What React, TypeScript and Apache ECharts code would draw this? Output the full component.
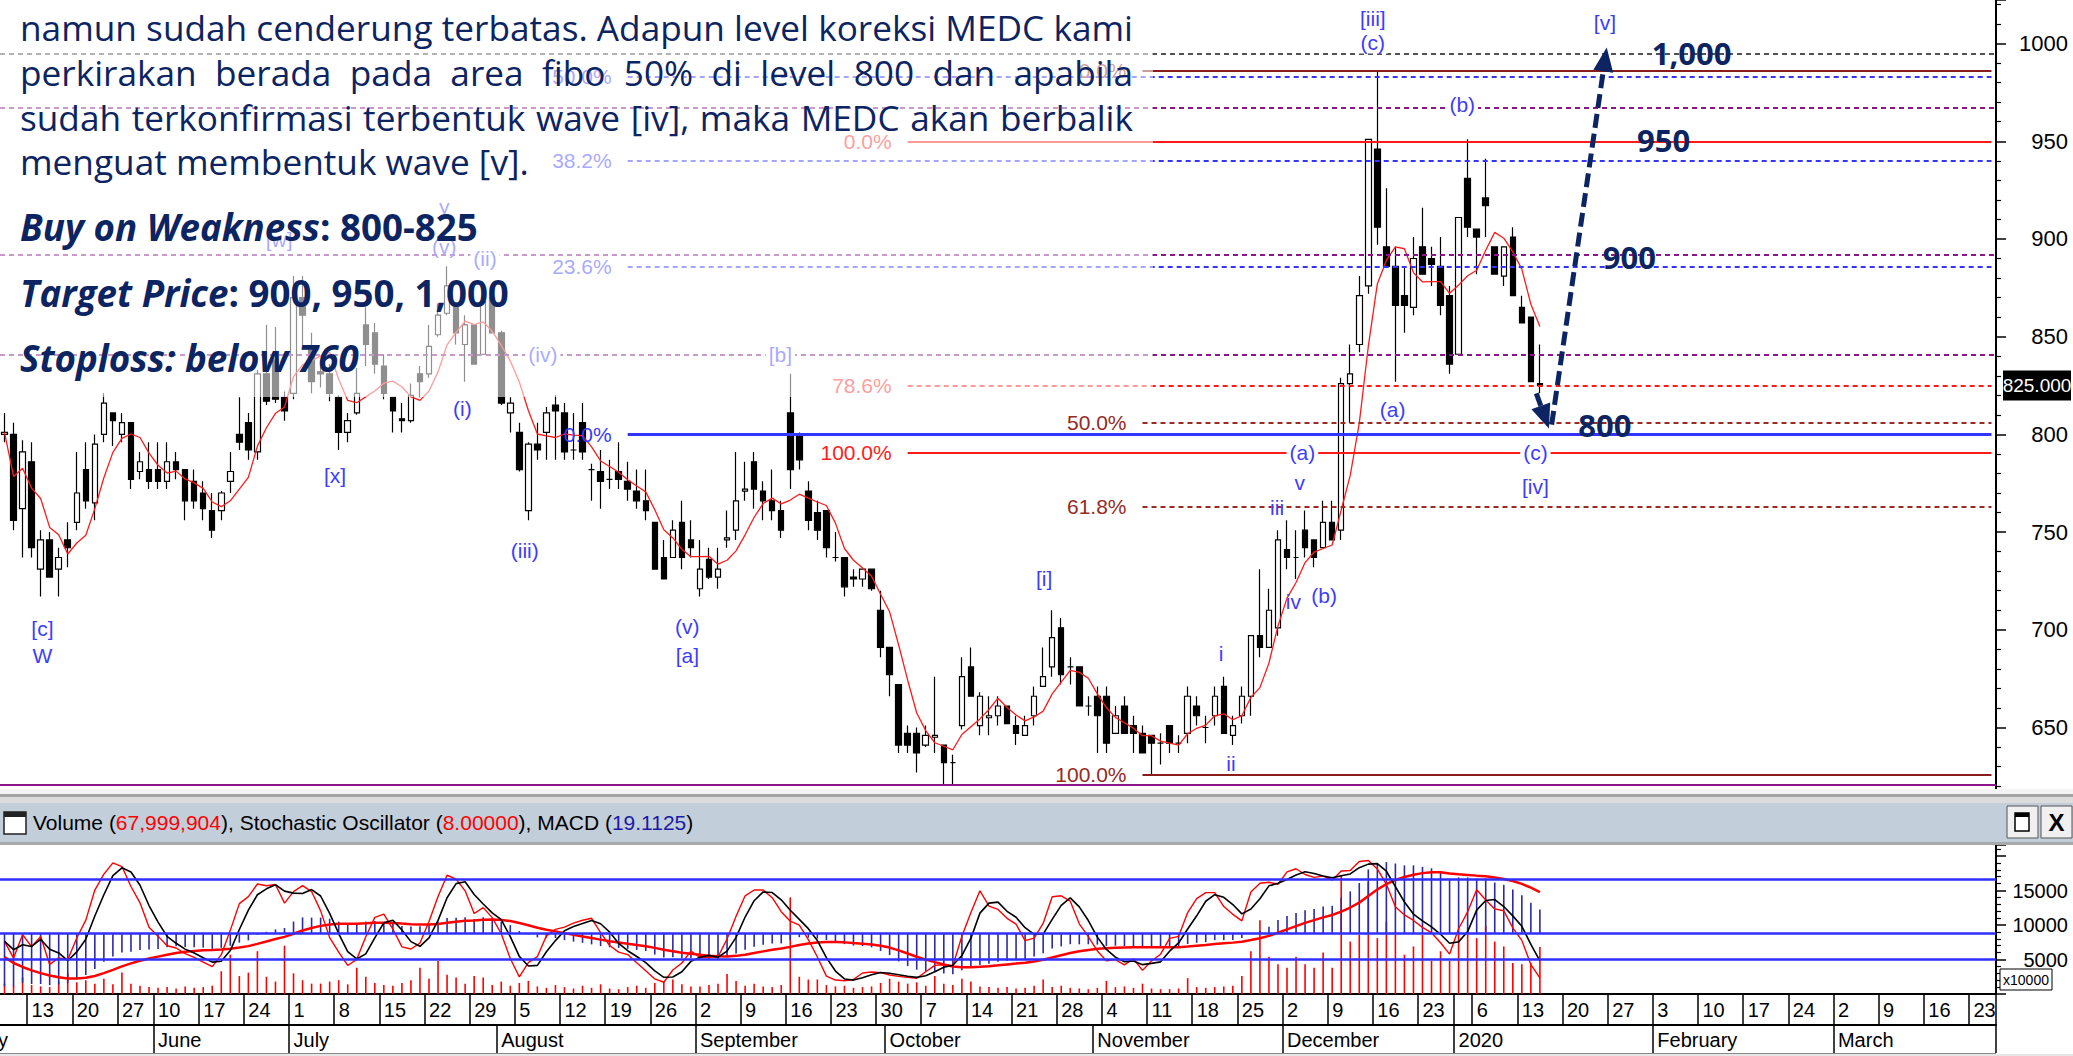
import React, { useEffect, useRef } from 'react';
import * as echarts from 'echarts';

const PAGE_W = 2073;
const PAGE_H = 1056;
const NAVY = '#0c2461';
const NARROW = "'Liberation Sans Narrow', 'Arial Narrow', 'Liberation Sans', Arial, sans-serif";
const SANS = "'Open Sans', 'Noto Sans', sans-serif";

// ---------- trading days (IDX calendar) ----------
const MAY_2019 = [8, 9, 10, 13, 14, 15, 16, 17, 20, 21, 22, 23, 24, 27, 28, 29, 31];
const JUN_2019 = [10, 11, 12, 13, 14, 17, 18, 19, 20, 21, 24, 25, 26, 27, 28];
const JUL_2019 = [1, 2, 3, 4, 5, 8, 9, 10, 11, 12, 15, 16, 17, 18, 19, 22, 23, 24, 25, 26, 29, 30, 31];
const AUG_2019 = [1, 2, 5, 6, 7, 8, 9, 12, 13, 14, 15, 16, 19, 20, 21, 22, 23, 26, 27, 28, 29, 30];
const SEP_2019 = [2, 3, 4, 5, 6, 9, 10, 11, 12, 13, 16, 17, 18, 19, 20, 23, 24, 25, 26, 27, 30];
const OCT_2019 = [1, 2, 3, 4, 7, 8, 9, 10, 11, 14, 15, 16, 17, 18, 21, 22, 23, 24, 25, 28, 29, 30, 31];
const NOV_2019 = [1, 4, 5, 6, 7, 8, 11, 12, 13, 14, 15, 18, 19, 20, 21, 22, 25, 26, 27, 28, 29];
const DEC_2019 = [2, 3, 4, 5, 6, 9, 10, 11, 12, 13, 16, 17, 18, 19, 20, 23, 26, 27, 30];
const JAN_2020 = [2, 3, 6, 7, 8, 9, 10, 13, 14, 15, 16, 17, 20, 21, 22, 23, 24, 27, 28, 29, 30, 31];
const FEB_2020 = [3, 4, 5, 6, 7, 10, 11, 12, 13, 14, 17, 18, 19, 20, 21, 24, 25, 26, 27, 28];
const MAR_2020 = [2, 3, 4, 5, 6, 9, 10, 11, 12, 13, 16, 17, 18, 19, 20, 23, 24, 26];
// days that the source chart keeps in the preceding week block
const NO_WEEK_BREAK = ['2019-12-30'];

const MONTH_BLOCKS: [number, number, number[]][] = [
  [2019, 5, MAY_2019], [2019, 6, JUN_2019], [2019, 7, JUL_2019], [2019, 8, AUG_2019],
  [2019, 9, SEP_2019], [2019, 10, OCT_2019], [2019, 11, NOV_2019], [2019, 12, DEC_2019],
  [2020, 1, JAN_2020], [2020, 2, FEB_2020], [2020, 3, MAR_2020],
];
const MONTH_NAMES = ['January', 'February', 'March', 'April', 'May', 'June', 'July', 'August', 'September', 'October', 'November', 'December'];

const pad = (n: number) => (n < 10 ? '0' + n : '' + n);
const DATES: string[] = MONTH_BLOCKS.flatMap(([y, m, days]) => days.map((d) => `${y}-${pad(m)}-${pad(d)}`));

// ---------- daily candles [open, close, low, high] ----------
const CANDLES: [number, number, number, number][] = [
  [800, 801, 796, 811], [800, 756, 751, 806], [762, 791, 737, 797], [786, 742, 737, 796], [731, 746, 717, 751],
  [746, 727, 727, 750], [731, 737, 717, 742], [746, 742, 732, 755], [755, 770, 751, 791], [782, 766, 762, 796],
  [765, 795, 756, 800], [800, 816, 796, 821], [811, 807, 794, 811], [800, 806, 796, 811], [806, 777, 772, 806],
  [781, 786, 777, 791], [782, 776, 772, 796], [782, 776, 772, 796], [776, 786, 772, 796], [786, 782, 777, 791],
  [782, 766, 756, 782], [776, 766, 762, 782], [770, 762, 756, 776], [761, 751, 747, 770], [761, 770, 756, 771],
  [776, 781, 770, 791], [800, 796, 792, 819], [806, 792, 787, 811], [791, 831, 787, 833], [831, 817, 815, 856],
  [838, 818, 816, 855], [819, 812, 807, 822], [821, 870, 818, 881], [870, 861, 845, 881], [845, 827, 821, 852],
  [832, 831, 824, 838], [831, 821, 817, 836], [819, 801, 792, 820], [801, 807, 796, 811], [811, 821, 810, 834],
  [856, 846, 835, 865], [852, 836, 831, 857], [835, 821, 818, 841], [819, 812, 801, 819], [808, 807, 801, 816],
  [807, 820, 806, 826], [831, 827, 819, 835], [831, 845, 829, 856], [851, 861, 850, 867], [862, 876, 861, 886],
  [865, 852, 846, 865], [846, 856, 827, 861], [856, 836, 836, 856], [841, 868, 841, 871], [870, 852, 852, 872],
  [852, 816, 815, 853], [811, 816, 801, 819], [801, 782, 781, 806], [761, 795, 756, 796], [795, 792, 787, 806],
  [801, 811, 787, 814], [815, 812, 787, 820], [811, 791, 787, 816], [792, 792, 787, 811], [806, 791, 787, 816],
  [782, 782, 766, 785], [781, 776, 762, 792], [777, 777, 772, 787], [781, 777, 772, 796], [776, 772, 766, 786],
  [771, 766, 762, 782], [766, 761, 756, 782], [755, 731, 731, 755], [737, 726, 726, 746], [737, 751, 737, 756],
  [755, 737, 731, 766], [746, 742, 737, 756], [721, 731, 717, 746], [736, 727, 726, 742], [727, 731, 721, 742],
  [746, 747, 742, 761], [751, 766, 746, 791], [771, 772, 766, 786], [786, 772, 762, 791], [771, 766, 756, 776],
  [766, 761, 756, 782], [761, 751, 747, 766], [811, 782, 772, 831], [800, 787, 782, 801], [771, 756, 751, 776],
  [760, 751, 746, 766], [761, 742, 737, 761], [737, 737, 735, 750], [737, 722, 717, 737], [727, 726, 722, 731],
  [726, 731, 722, 731], [731, 721, 720, 731], [710, 691, 686, 720], [691, 677, 666, 691], [672, 641, 637, 672],
  [647, 641, 637, 651], [647, 637, 627, 650], [641, 646, 640, 651], [645, 646, 637, 676], [641, 632, 621, 641],
  [632, 632, 621, 636], [651, 676, 649, 686], [681, 666, 666, 691], [651, 666, 646, 668], [655, 656, 646, 666],
  [656, 661, 651, 666], [661, 652, 652, 661], [651, 647, 641, 656], [646, 651, 646, 656], [656, 666, 651, 671],
  [671, 676, 671, 691], [681, 696, 676, 710], [701, 677, 672, 706], [681, 681, 672, 686], [681, 661, 661, 681],
  [661, 661, 656, 666], [666, 656, 637, 671], [666, 642, 637, 671], [647, 656, 647, 661], [661, 647, 647, 666],
  [651, 647, 637, 656], [647, 637, 637, 651], [646, 642, 626, 646], [642, 642, 631, 647], [651, 642, 637, 651],
  [642, 642, 637, 646], [647, 666, 642, 671], [661, 656, 651, 666], [650, 650, 642, 656], [656, 666, 651, 671],
  [671, 647, 647, 676], [646, 651, 641, 656], [656, 666, 652, 671], [666, 697, 656, 697], [697, 691, 686, 731],
  [691, 710, 691, 721], [701, 746, 697, 751], [741, 737, 731, 756], [737, 737, 726, 751], [751, 742, 737, 761],
  [746, 737, 732, 746], [742, 755, 742, 766], [755, 746, 746, 766], [751, 826, 746, 829], [826, 831, 806, 846],
  [846, 871, 842, 881], [876, 951, 872, 951], [946, 906, 897, 986], [896, 886, 886, 926], [886, 866, 827, 896],
  [871, 866, 852, 886], [865, 890, 861, 901], [896, 882, 882, 916], [890, 887, 876, 896], [886, 866, 861, 901],
  [871, 836, 831, 876], [841, 911, 841, 911], [931, 906, 901, 951], [905, 901, 882, 905], [921, 917, 901, 941],
  [896, 882, 882, 896], [881, 896, 876, 896], [901, 871, 871, 906], [865, 857, 857, 871], [860, 827, 827, 860],
  [826, 825, 821, 846],
];

// daily volume, in units of 10,000 shares
const VOLUME = [
  1500, 1200, 2400, 1300, 1100, 1000, 1800, 3000, 1700, 2000, 1500, 2200, 1400, 3100, 1500, 1200, 1000,
  900, 1000, 800, 1100, 900, 1000, 1200, 3300, 5700, 2600, 3100, 6200, 2500, 1800, 7000, 3000, 2000, 1500,
  1500, 1800, 2000, 1400, 3800, 2500, 1600, 1300, 1200, 1600, 2000, 3800, 2200, 4800, 2800, 2400, 1500, 2600, 2400, 1300,
  1800, 1200, 1600, 1900, 1100, 900, 1300, 1000, 800, 1200, 900, 1400, 800, 700, 1000, 1200, 900, 1600, 1800, 2100, 1400, 1100,
  1100, 1300, 1500, 2900, 1900, 1200, 1500, 1100, 1000, 1300, 14000, 2500, 2100, 2100, 1300, 1100, 1200, 900, 1000, 1100,
  1600, 2200, 1800, 1500, 1700, 1200, 2600, 1500, 1300, 2200, 1800, 1100, 1000, 900, 1000, 800, 900, 1200, 2100,
  1000, 1200, 900, 800, 700, 900, 1900, 1000, 1100, 900, 1500, 800, 700, 700, 800, 2300, 1000, 900, 1000, 1100, 1200,
  2600, 6200, 10700, 5400, 4300, 3800, 5400, 4300, 3800, 6000, 3800, 17200, 7600, 8600, 16200, 8100, 10500, 9000,
  5700, 6900, 8600, 4800, 6200, 4800, 9000, 9000, 8100, 9800, 7600, 6900, 4500, 4300, 4500, 6800,
];

// price levels
const BLACK_LEVEL = 995;
const PURPLE_DASHED_LEVELS = [967, 892, 841];
const PURPLE_BASE_LEVEL = 620.5;
const BLUE_FIB = [{ label: '50.0%', price: 983 }, { label: '38.2%', price: 940 }, { label: '23.6%', price: 886 }, { label: '0.0%', price: 800 }];
const RED_FIB = [{ label: '0.0%', price: 950 }, { label: '78.6%', price: 824.8 }, { label: '100.0%', price: 790.5 }];
const BROWN_FIB = [{ label: '0.0%', price: 986 }, { label: '50.0%', price: 806 }, { label: '61.8%', price: 763 }, { label: '100.0%', price: 626 }];
const BLUE_FIB_START = 69;
const RED_FIB_START = 100;
const BROWN_FIB_START = 126;

// Elliott-wave labels: [text, day index, price]
const WAVE_LABELS: [string, number, number][] = [
  ['[iii]', 151.5, 1013], ['(c)', 151.5, 1000.3], ['[v]', 177.2, 1011], ['(b)', 161.4, 968.6],
  ['(a)', 153.7, 812.5], ['(a)', 143.7, 790.5], ['v', 143.4, 775.2], ['iii', 140.9, 762.4],
  ['iv', 142.7, 714.3], ['(b)', 146.1, 717.8], ['i', 134.7, 688], ['ii', 135.8, 631.7],
  ['(c)', 169.5, 790.5], ['[iv]', 169.5, 773.1], ['[i]', 115.1, 726.5], ['[b]', 85.9, 841],
  ['(v)', 75.6, 701.5], ['[a]', 75.6, 687.1], ['(iii)', 57.6, 740.8], ['(i)', 50.7, 813.5],
  ['(iv)', 59.6, 841], ['(ii)', 53.2, 890], ['y', 48.7, 916.4], ['(v)', 48.7, 896],
  ['[w]', 30.4, 899.5], ['[x]', 36.6, 779.2], ['[c]', 4.2, 700.9], ['W', 4.2, 687.1], ['[ii]', 125.7, 614],
];
const LABELS_ON_LINES = [1, 3, 5, 12, 15, 20, 21, 28];

const TARGET_LABELS: [string, number, number][] = [
  ['1,000', 186.8, 995.2], ['950', 183.7, 950.6], ['900', 179.9, 890.7], ['800', 177.2, 804.7],
];
const ARROW_DOWN: [number, number][] = [[169.6, 821], [171.0, 803]];
const ARROW_UP: [number, number][] = [[171.3, 805], [177.4, 998]];
const LAST_PRICE = 825;

const PARAGRAPH = [
  'namun sudah cenderung terbatas. Adapun level koreksi MEDC kami',
  'perkirakan berada pada area fibo 50% di level 800 dan apabila',
  'sudah terkonfirmasi terbentuk wave [iv], maka MEDC akan berbalik',
  'menguat membentuk wave [v].',
];
const KEY_LINES: [string, string][] = [
  ['Buy on Weakness', ': 800-825'],
  ['Target Price', ': 900, 950, 1,000'],
  ['Stoploss: below 760', ''],
];

// ---------- indicators derived from the price data ----------
const CLOSE = CANDLES.map((c) => c[1]);
const LOW = CANDLES.map((c) => c[2]);
const HIGH = CANDLES.map((c) => c[3]);

function sma(values: number[], n: number): number[] {
  return values.map((_, i) => {
    const w = values.slice(Math.max(0, i - n + 1), i + 1);
    return w.reduce((a, b) => a + b, 0) / w.length;
  });
}
function ema(values: number[], n: number, seed: number): number[] {
  const k = 2 / (n + 1);
  let prev = seed;
  return values.map((v) => (prev = prev + k * (v - prev)));
}
const MA5 = sma(CLOSE, 5).map((v) => Math.round(v * 10) / 10);
// EMA states carried in from before the visible window
const EMA12 = ema(CLOSE, 12, 800);
const EMA26 = ema(CLOSE, 26, 848);
const MACD = EMA12.map((v, i) => +(v - EMA26[i]).toFixed(2));
const SIGNAL = ema(MACD, 9, -14).map((v) => +v.toFixed(2));
const STOCH_PERIOD = 8;
const RAW_K = CLOSE.map((c, i) => {
  const s = Math.max(0, i - STOCH_PERIOD + 1);
  const hh = Math.max(...HIGH.slice(s, i + 1));
  const ll = Math.min(...LOW.slice(s, i + 1));
  return hh === ll ? 50 : ((c - ll) / (hh - ll)) * 100;
});
const STOCH_K = sma(RAW_K, 3).map((v) => +v.toFixed(2));
const STOCH_D = sma(STOCH_K, 3).map((v) => +v.toFixed(2));

// ---------- date axis helpers ----------
const weekNo = (s: string) => Math.floor((Date.parse(s + 'T00:00:00Z') / 86400000 + 3) / 7);
const WEEK_START = DATES.map((s, i) => {
  if (i === 0) return false;
  if (NO_WEEK_BREAK.includes(s)) return false;
  return weekNo(s) !== weekNo(DATES[i - 1]) || s.slice(0, 4) !== DATES[i - 1].slice(0, 4);
});
const WEEK_GROUP: number[] = [];
DATES.forEach((_, i) => WEEK_GROUP.push(i === 0 ? 0 : WEEK_GROUP[i - 1] + (WEEK_START[i] ? 1 : 0)));
const weekLen = (i: number) => WEEK_GROUP.filter((w) => w === WEEK_GROUP[i]).length;
const isMonthStart = (i: number) => i > 0 && DATES[i].slice(0, 7) !== DATES[i - 1].slice(0, 7);
const monthLabel = (v: string) => {
  const m = Number(v.slice(5, 7));
  return m === 1 ? v.slice(0, 4) : MONTH_NAMES[m - 1];
};

function buildOption(): any {
  const solid = (color: string, width: number) => ({ color, width, type: 'solid' });
  const dashed = (color: string, width: number) => ({ color, width, type: [5, 4] });
  const lastIdx = DATES.length - 1;
  const partial = (start: number, price: number, lineStyle: any) => [
    { coord: [start, price], lineStyle },
    { coord: [lastIdx, price] },
  ];
  const levelLines: any[] = [
    { yAxis: BLACK_LEVEL, lineStyle: dashed('#1a1a1a', 1.6) },
    ...PURPLE_DASHED_LEVELS.map((p) => ({ yAxis: p, lineStyle: dashed('#8a168a', 1.8) })),
    { yAxis: PURPLE_BASE_LEVEL, lineStyle: solid('#8a168a', 2) },
    ...BLUE_FIB.map((f, i) => partial(BLUE_FIB_START, f.price, i === 3 ? solid('#3434ff', 3) : dashed('#3434ff', 1.8))),
    ...RED_FIB.map((f, i) => partial(RED_FIB_START, f.price, i === 1 ? dashed('#ff1a1a', 1.8) : solid('#ff1a1a', 2.2))),
    ...BROWN_FIB.map((f, i) => partial(BROWN_FIB_START, f.price, i === 0 || i === 3 ? solid('#8b1c1c', 2.2) : dashed('#9b2a22', 1.8))),
  ];
  const blueLine = { color: '#2f2fff', width: 2.5, type: 'solid' };

  return {
    animation: false,
    backgroundColor: '#ffffff',
    grid: [
      { left: 0, top: 0, width: 1996, height: 825.2 },
      { left: 0, top: 845, width: 1996, height: 149 },
    ],
    xAxis: [
      { type: 'category', gridIndex: 0, data: DATES, boundaryGap: true, show: false },
      {
        type: 'category', gridIndex: 1, data: DATES, boundaryGap: true, position: 'bottom',
        axisLine: { show: true, onZero: false, lineStyle: { color: '#000', width: 2 } },
        axisTick: { show: true, interval: (i: number) => WEEK_START[i], length: 31, lineStyle: { color: '#000', width: 1.5 } },
        axisLabel: {
          show: true, interval: (i: number) => WEEK_START[i] && weekLen(i) >= 3,
          formatter: (v: string) => String(Number(v.slice(8, 10))),
          align: 'left', margin: 6, fontSize: 20, fontFamily: NARROW, color: '#000',
        },
        splitLine: { show: false },
      },
      {
        type: 'category', gridIndex: 1, data: DATES, boundaryGap: true, position: 'bottom', offset: 31,
        axisLine: { show: true, onZero: false, lineStyle: { color: '#000', width: 2 } },
        axisTick: { show: true, interval: (i: number) => isMonthStart(i), length: 28, lineStyle: { color: '#000', width: 1.5 } },
        axisLabel: {
          show: true, interval: (i: number) => isMonthStart(i), formatter: (v: string) => monthLabel(v),
          align: 'left', margin: 5, fontSize: 20, fontFamily: NARROW, color: '#000',
        },
        splitLine: { show: false },
      },
    ],
    yAxis: [
      {
        type: 'value', gridIndex: 0, position: 'right', min: 600, max: 1022.3, interval: 50,
        axisLine: { show: true, lineStyle: { color: '#000', width: 2 } },
        axisTick: { show: true, length: 10, lineStyle: { color: '#000', width: 1.5 } },
        minorTick: { show: true, splitNumber: 5, length: 5, lineStyle: { color: '#000', width: 1.2 } },
        axisLabel: {
          formatter: (v: number) => (v >= 650 && v <= 1000 ? String(v) : ''),
          align: 'right', margin: 72, fontSize: 22, fontFamily: NARROW, color: '#000',
        },
        splitLine: { show: false },
      },
      {
        type: 'value', gridIndex: 1, position: 'right', min: 0, max: 21600, interval: 5000,
        axisLine: { show: true, lineStyle: { color: '#000', width: 2 } },
        axisTick: { show: true, length: 10, lineStyle: { color: '#000', width: 1.5 } },
        minorTick: { show: true, splitNumber: 5, length: 5, lineStyle: { color: '#000', width: 1.2 } },
        axisLabel: {
          formatter: (v: number) => (v >= 5000 && v <= 15000 ? String(v) : ''),
          align: 'right', margin: 72, fontSize: 20, fontFamily: NARROW, color: '#000',
        },
        splitLine: { show: false },
      },
      { type: 'value', gridIndex: 1, min: -6, max: 105.2, show: false, splitLine: { show: false } },
      { type: 'value', gridIndex: 1, min: -50.8, max: 73.3, show: false, splitLine: { show: false } },
    ],
    series: [
      {
        type: 'line', name: 'levels', xAxisIndex: 0, yAxisIndex: 0, data: [], silent: true, z: 1,
        markLine: { silent: true, symbol: ['none', 'none'], label: { show: false }, animation: false, data: levelLines },
      },
      {
        type: 'candlestick', name: 'MEDC', xAxisIndex: 0, yAxisIndex: 0, data: CANDLES, barWidth: 6, z: 2,
        itemStyle: { color: '#ffffff', color0: '#000000', borderColor: '#000000', borderColor0: '#000000', borderWidth: 1.2 },
      },
      {
        type: 'line', name: 'MA', xAxisIndex: 0, yAxisIndex: 0, data: MA5, showSymbol: false, z: 3,
        lineStyle: { color: '#ff1a1a', width: 1.3 },
      },
      {
        type: 'bar', name: 'Volume', xAxisIndex: 1, yAxisIndex: 1, data: VOLUME, barWidth: 1.6, barGap: '-100%', z: 2,
        itemStyle: { color: '#ff0000' },
      },
      {
        type: 'bar', name: 'MACD', xAxisIndex: 1, yAxisIndex: 3, data: MACD, barWidth: 1.6, barGap: '-100%', z: 2,
        itemStyle: { color: '#2a2aa8' },
      },
      {
        type: 'line', name: 'Signal', xAxisIndex: 1, yAxisIndex: 3, data: SIGNAL, showSymbol: false, z: 3,
        lineStyle: { color: '#ff0000', width: 2.5 },
        markLine: { silent: true, symbol: ['none', 'none'], label: { show: false }, data: [{ yAxis: 0, lineStyle: blueLine }] },
      },
      {
        type: 'line', name: '%K', xAxisIndex: 1, yAxisIndex: 2, data: STOCH_K, showSymbol: false, z: 4,
        lineStyle: { color: '#ff0000', width: 1.4 },
        markLine: {
          silent: true, symbol: ['none', 'none'], label: { show: false },
          data: [{ yAxis: 80, lineStyle: blueLine }, { yAxis: 20, lineStyle: blueLine }],
        },
      },
      {
        type: 'line', name: '%D', xAxisIndex: 1, yAxisIndex: 2, data: STOCH_D, showSymbol: false, z: 4,
        lineStyle: { color: '#000000', width: 1.6 },
      },
    ],
  };
}

function buildGraphics(chart: any): any[] {
  const a = chart.convertToPixel({ xAxisIndex: 0 }, 0) as number;
  const b = chart.convertToPixel({ xAxisIndex: 0 }, 100) as number;
  const X = (i: number) => a + ((b - a) * i) / 100;
  const Y = (p: number) => chart.convertToPixel({ yAxisIndex: 0 }, p) as number;
  const g: any[] = [];

  // wave labels
  WAVE_LABELS.forEach(([text, i, p], k) => {
    const onLine = LABELS_ON_LINES.includes(k);
    g.push({
      type: 'text', x: X(i), y: Y(p), z: 5,
      style: {
        text, fill: '#3c3cff', fontSize: 21, fontFamily: NARROW, textAlign: 'center', textVerticalAlign: 'middle',
        backgroundColor: onLine ? '#ffffff' : 'transparent', padding: onLine ? [0, 3] : 0,
      },
    });
  });

  // fib labels
  const fibLabel = (label: string, price: number, start: number, fill: string) =>
    g.push({
      type: 'text', x: X(start) - 16, y: Y(price), z: 5,
      style: { text: label, fill, fontSize: 21, fontFamily: NARROW, textAlign: 'right', textVerticalAlign: 'middle' },
    });
  BLUE_FIB.forEach((f) => fibLabel(f.label, f.price, BLUE_FIB_START, '#3a3aff'));
  RED_FIB.forEach((f) => fibLabel(f.label, f.price, RED_FIB_START, '#ff2020'));
  BROWN_FIB.forEach((f) => fibLabel(f.label, f.price, BROWN_FIB_START, '#962a1e'));

  // translucent box behind the commentary
  g.push({ type: 'rect', shape: { x: 0, y: 0, width: 1153, height: 397 }, style: { fill: 'rgba(255,255,255,0.56)' }, z: 10 });

  // commentary text, justified
  const cv = document.createElement('canvas').getContext('2d') as CanvasRenderingContext2D;
  const measure = (t: string, font: string) => {
    cv.font = font;
    return cv.measureText(t).width;
  };
  const left = 20;
  const width = 1113;
  let fs = 34;
  const w0 = measure(PARAGRAPH[0], `${fs}px ${SANS}`);
  fs = Math.max(28, Math.min(38, (fs * width) / w0));
  const font = `${fs}px ${SANS}`;
  const lineY = [27, 72, 117, 161];
  PARAGRAPH.forEach((line, li) => {
    const words = line.split(' ');
    const justify = li < 3;
    const widths = words.map((w) => measure(w, font));
    const total = widths.reduce((s, v) => s + v, 0);
    const space = justify ? (width - total) / (words.length - 1) : measure(' ', font);
    let x = left;
    words.forEach((w, wi) => {
      g.push({
        type: 'text', x, y: lineY[li], z: 11,
        style: { text: w, fill: NAVY, fontSize: fs, fontFamily: SANS, textAlign: 'left', textVerticalAlign: 'middle' },
      });
      x += widths[wi] + space;
    });
  });

  // key lines (bold)
  let bfs = 34;
  const tw = measure(KEY_LINES[1][0], `italic bold ${bfs}px ${SANS}`) + measure(KEY_LINES[1][1], `bold ${bfs}px ${SANS}`);
  bfs = Math.max(28, Math.min(40, (bfs * 489) / tw));
  const keyY = [227, 293, 358];
  KEY_LINES.forEach(([it, rest], k) => {
    g.push({
      type: 'text', x: left, y: keyY[k], z: 11,
      style: {
        text: `{bi|${it}}` + (rest ? `{b|${rest}}` : ''),
        textAlign: 'left', textVerticalAlign: 'middle',
        rich: {
          bi: { fill: NAVY, fontSize: bfs, fontFamily: SANS, fontWeight: 'bold', fontStyle: 'italic' },
          b: { fill: NAVY, fontSize: bfs, fontFamily: SANS, fontWeight: 'bold' },
        },
      },
    });
  });

  // targets
  TARGET_LABELS.forEach(([t, i, p]) => {
    g.push({
      type: 'text', x: X(i), y: Y(p), z: 11,
      style: { text: t, fill: NAVY, fontSize: 31, fontFamily: SANS, fontWeight: 'bold', textAlign: 'center', textVerticalAlign: 'middle' },
    });
  });

  // dashed arrows
  const arrow = (pts: [number, number][]) => {
    const x1 = X(pts[0][0]);
    const y1 = Y(pts[0][1]);
    const x2 = X(pts[1][0]);
    const y2 = Y(pts[1][1]);
    const len = Math.hypot(x2 - x1, y2 - y1);
    const ux = (x2 - x1) / len;
    const uy = (y2 - y1) / len;
    const hl = 24;
    const hw = 10;
    const bx = x2 - ux * hl;
    const by = y2 - uy * hl;
    g.push({
      type: 'line', z: 11, shape: { x1, y1, x2: bx, y2: by },
      style: { stroke: NAVY, lineWidth: 5, lineDash: [14, 6] },
    });
    g.push({
      type: 'polygon', z: 11,
      shape: { points: [[x2, y2], [bx - uy * hw, by + ux * hw], [bx + uy * hw, by - ux * hw]] },
      style: { fill: NAVY },
    });
  };
  arrow(ARROW_DOWN);
  arrow(ARROW_UP);

  // last price tag
  const ly = Y(LAST_PRICE);
  g.push({ type: 'rect', z: 20, shape: { x: 2003, y: ly - 15, width: 68, height: 30 }, style: { fill: '#000' } });
  g.push({
    type: 'text', z: 21, x: 2037, y: ly,
    style: { text: LAST_PRICE.toFixed(3), fill: '#fff', fontSize: 19, fontFamily: NARROW, textAlign: 'center', textVerticalAlign: 'middle' },
  });

  // separator + indicator header bar
  g.push({ type: 'rect', z: 20, shape: { x: 0, y: 789, width: PAGE_W, height: 5 }, style: { fill: '#f3f3f3' } });
  g.push({ type: 'rect', z: 20, shape: { x: 0, y: 794, width: PAGE_W, height: 3 }, style: { fill: '#a4a4a4' } });
  g.push({ type: 'rect', z: 20, shape: { x: 0, y: 797, width: PAGE_W, height: 6 }, style: { fill: '#dcdcdc' } });
  g.push({ type: 'rect', z: 20, shape: { x: 0, y: 803, width: PAGE_W, height: 39 }, style: { fill: '#c3cedb' } });
  g.push({ type: 'rect', z: 20, shape: { x: 0, y: 842, width: PAGE_W, height: 3 }, style: { fill: '#a9a9a9' } });
  // window icon
  g.push({ type: 'rect', z: 21, shape: { x: 4, y: 812, width: 22, height: 22 }, style: { fill: '#fff', stroke: '#222', lineWidth: 1.5 } });
  g.push({ type: 'rect', z: 21, shape: { x: 4, y: 812, width: 22, height: 5 }, style: { fill: '#222' } });
  g.push({
    type: 'text', z: 21, x: 33, y: 822,
    style: {
      text: '{k|Volume (}{r|67,999,904}{k|), Stochastic Oscillator (}{r|8.00000}{k|), MACD (}{n|19.1125}{k|)}',
      textAlign: 'left', textVerticalAlign: 'middle',
      rich: {
        k: { fill: '#000', fontSize: 21, fontFamily: NARROW },
        r: { fill: '#ff0000', fontSize: 21, fontFamily: NARROW },
        n: { fill: '#1a1aa6', fontSize: 21, fontFamily: NARROW },
      },
    },
  });
  // buttons
  g.push({ type: 'rect', z: 21, shape: { x: 2007, y: 806, width: 31, height: 32 }, style: { fill: '#f0f0f0', stroke: '#555', lineWidth: 1 } });
  g.push({ type: 'rect', z: 22, shape: { x: 2015, y: 813, width: 14, height: 18 }, style: { fill: '#fff', stroke: '#000', lineWidth: 1.5 } });
  g.push({ type: 'rect', z: 22, shape: { x: 2015, y: 813, width: 14, height: 4 }, style: { fill: '#000' } });
  g.push({ type: 'rect', z: 21, shape: { x: 2041, y: 806, width: 31, height: 32 }, style: { fill: '#f0f0f0', stroke: '#555', lineWidth: 1 } });
  g.push({
    type: 'text', z: 22, x: 2056.5, y: 822,
    style: { text: 'X', fill: '#000', fontSize: 24, fontWeight: 'bold', fontFamily: NARROW, textAlign: 'center', textVerticalAlign: 'middle' },
  });

  // volume multiplier tag
  g.push({ type: 'rect', z: 20, shape: { x: 2000, y: 969, width: 52, height: 21 }, style: { fill: '#fff', stroke: '#000', lineWidth: 1 } });
  g.push({
    type: 'text', z: 21, x: 2026, y: 980,
    style: { text: 'x10000', fill: '#000', fontSize: 14, fontFamily: NARROW, textAlign: 'center', textVerticalAlign: 'middle' },
  });

  // partially hidden first month label and bottom border of the date rows
  g.push({
    type: 'text', z: 20, x: 8, y: 1040,
    style: { text: 'May', fill: '#000', fontSize: 20, fontFamily: NARROW, textAlign: 'right', textVerticalAlign: 'middle' },
  });
  g.push({ type: 'line', z: 20, shape: { x1: 0, y1: 1053.5, x2: 1996, y2: 1053.5 }, style: { stroke: '#8a8a8a', lineWidth: 1 } });
  g.push({ type: 'rect', z: 20, shape: { x: 0, y: 1054, width: PAGE_W, height: 2 }, style: { fill: '#e6e6e6' } });

  return g;
}

export default function App() {
  const ref = useRef<HTMLDivElement>(null);
  useEffect(() => {
    const el = ref.current;
    if (!el) return;
    const chart = echarts.init(el, null, { renderer: 'svg' });
    chart.setOption(buildOption());
    chart.setOption({ graphic: buildGraphics(chart) });
    return () => chart.dispose();
  }, []);
  return (
    <div
      ref={ref}
      style={{ position: 'fixed', left: 0, top: 0, width: PAGE_W, height: PAGE_H, background: '#fff' }}
    />
  );
}
